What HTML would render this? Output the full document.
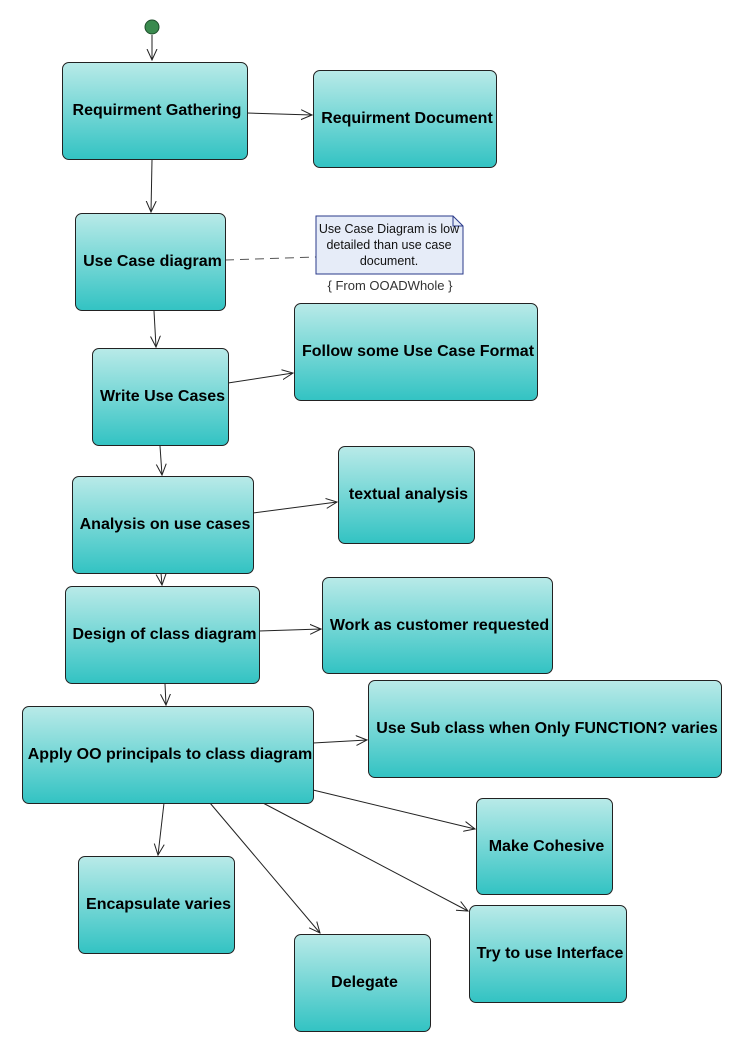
<!DOCTYPE html>
<html><head><style>
body{margin:0;background:#fff;width:741px;height:1051px;overflow:hidden;position:relative;font-family:"Liberation Sans",sans-serif}
.b{position:absolute;box-sizing:border-box;border:1px solid #222;border-radius:7px;background:linear-gradient(#b8eae8,#33c3c3);display:flex;align-items:center;justify-content:center;text-align:center;font-weight:bold;font-size:16px;color:#000;padding-left:4px;white-space:nowrap}
svg{position:absolute;left:0;top:0}
</style></head><body>
<svg width="741" height="1051">
<defs><marker id="a" markerWidth="12" markerHeight="12" refX="11" refY="6" orient="auto" markerUnits="userSpaceOnUse"><path d="M0,1 L11,6 L0,11" fill="none" stroke="#222" stroke-width="1"/></marker></defs>
<g stroke="#222" stroke-width="1" fill="none" marker-end="url(#a)">
<line x1="152" y1="35" x2="152" y2="60"/>
<line x1="247" y1="113" x2="312" y2="115"/>
<line x1="152" y1="160" x2="151" y2="212"/>
<line x1="154" y1="311" x2="156" y2="347"/>
<line x1="228" y1="383" x2="293" y2="373"/>
<line x1="160" y1="446" x2="162" y2="475"/>
<line x1="253" y1="513" x2="337" y2="502"/>
<line x1="161" y1="573" x2="162" y2="585"/>
<line x1="259" y1="631" x2="321" y2="629"/>
<line x1="165" y1="684" x2="166" y2="705"/>
<line x1="313" y1="743" x2="367" y2="740"/>
<line x1="313" y1="790" x2="475" y2="829"/>
<line x1="263" y1="803" x2="468" y2="911"/>
<line x1="210" y1="803" x2="320" y2="933"/>
<line x1="164" y1="803" x2="158" y2="855"/>
</g>
<line x1="225" y1="260" x2="316" y2="257" stroke="#555" stroke-dasharray="9,6"/>
<circle cx="152" cy="27" r="7" fill="#3a8a4e" stroke="#1d4d2a"/>
<path d="M316,216 H453 L463,226 V274 H316 Z" fill="#e6ecf8" stroke="#2a3a8a"/>
<path d="M453,216 V226 H463" fill="none" stroke="#2a3a8a"/>
<text font-family="Liberation Sans,sans-serif" font-size="12.5" text-anchor="middle" fill="#111"><tspan x="389" y="233">Use Case Diagram is low</tspan><tspan x="389" y="249">detailed than use case</tspan><tspan x="389" y="265">document.</tspan><tspan x="390" y="290" font-size="13" fill="#333">{ From OOADWhole }</tspan></text>
</svg>
<div class="b" style="left:62px;top:62px;width:186px;height:98px">Requirment Gathering</div>
<div class="b" style="left:313px;top:70px;width:184px;height:98px">Requirment Document</div>
<div class="b" style="left:75px;top:213px;width:151px;height:98px">Use Case diagram</div>
<div class="b" style="left:92px;top:348px;width:137px;height:98px">Write Use Cases</div>
<div class="b" style="left:294px;top:303px;width:244px;height:98px">Follow some Use Case Format</div>
<div class="b" style="left:72px;top:476px;width:182px;height:98px">Analysis on use cases</div>
<div class="b" style="left:338px;top:446px;width:137px;height:98px">textual analysis</div>
<div class="b" style="left:65px;top:586px;width:195px;height:98px">Design of class diagram</div>
<div class="b" style="left:322px;top:577px;width:231px;height:97px">Work as customer requested</div>
<div class="b" style="left:22px;top:706px;width:292px;height:98px">Apply OO principals to class diagram</div>
<div class="b" style="left:368px;top:680px;width:354px;height:98px">Use Sub class when Only FUNCTION? varies</div>
<div class="b" style="left:476px;top:798px;width:137px;height:97px">Make Cohesive</div>
<div class="b" style="left:78px;top:856px;width:157px;height:98px">Encapsulate varies</div>
<div class="b" style="left:469px;top:905px;width:158px;height:98px">Try to use Interface</div>
<div class="b" style="left:294px;top:934px;width:137px;height:98px">Delegate</div>
</body></html>
